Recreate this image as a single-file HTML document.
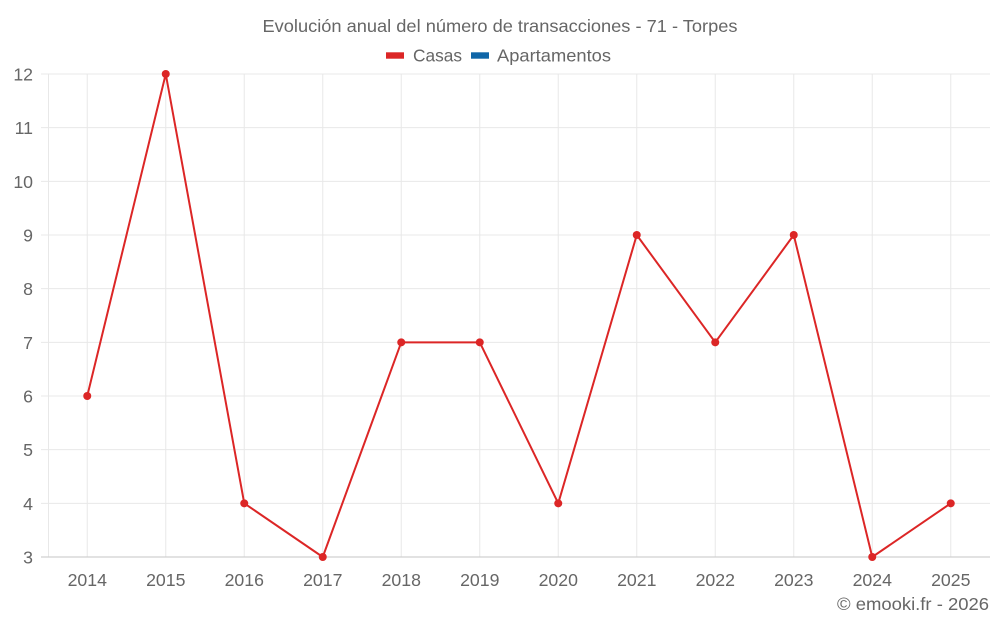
<!DOCTYPE html>
<html><head><meta charset="utf-8"><style>
html,body{margin:0;padding:0;background:#fff;}
svg{display:block;font-family:"Liberation Sans",Arial,sans-serif;}
</style></head><body>
<svg width="1000" height="625" viewBox="0 0 1000 625" xmlns="http://www.w3.org/2000/svg">
<rect width="1000" height="625" fill="#fff"/>
<g fill="#666" font-size="17.7">
<text x="500" y="32" text-anchor="middle" textLength="475" lengthAdjust="spacingAndGlyphs">Evolución anual del número de transacciones - 71 - Torpes</text>
<rect x="386" y="52.3" width="18" height="6.4" fill="#dc2626"/>
<text x="413" y="61.7" textLength="49" lengthAdjust="spacingAndGlyphs">Casas</text>
<rect x="471" y="52.3" width="18" height="6.4" fill="#0f66a8"/>
<text x="497" y="61.7" textLength="114" lengthAdjust="spacingAndGlyphs">Apartamentos</text>
</g>
<g stroke="#e8e8e8" stroke-width="1">
<line x1="41" y1="74" x2="990" y2="74"/>
<line x1="41" y1="127.67" x2="990" y2="127.67"/>
<line x1="41" y1="181.33" x2="990" y2="181.33"/>
<line x1="41" y1="235" x2="990" y2="235"/>
<line x1="41" y1="288.67" x2="990" y2="288.67"/>
<line x1="41" y1="342.33" x2="990" y2="342.33"/>
<line x1="41" y1="396" x2="990" y2="396"/>
<line x1="41" y1="449.67" x2="990" y2="449.67"/>
<line x1="41" y1="503.33" x2="990" y2="503.33"/>
<line x1="48.5" y1="74" x2="48.5" y2="557"/>
<line x1="87.25" y1="74" x2="87.25" y2="557"/>
<line x1="165.75" y1="74" x2="165.75" y2="557"/>
<line x1="244.25" y1="74" x2="244.25" y2="557"/>
<line x1="322.75" y1="74" x2="322.75" y2="557"/>
<line x1="401.25" y1="74" x2="401.25" y2="557"/>
<line x1="479.75" y1="74" x2="479.75" y2="557"/>
<line x1="558.25" y1="74" x2="558.25" y2="557"/>
<line x1="636.75" y1="74" x2="636.75" y2="557"/>
<line x1="715.25" y1="74" x2="715.25" y2="557"/>
<line x1="793.75" y1="74" x2="793.75" y2="557"/>
<line x1="872.25" y1="74" x2="872.25" y2="557"/>
<line x1="950.75" y1="74" x2="950.75" y2="557"/>
</g>
<line x1="41" y1="557" x2="990" y2="557" stroke="#d0d0d0" stroke-width="1.2"/>
<g fill="#666" font-size="17.7" text-anchor="end">
<text x="33" y="80.5">12</text>
<text x="33" y="134.2">11</text>
<text x="33" y="187.8">10</text>
<text x="33" y="241.5">9</text>
<text x="33" y="295.2">8</text>
<text x="33" y="348.8">7</text>
<text x="33" y="402.5">6</text>
<text x="33" y="456.2">5</text>
<text x="33" y="509.8">4</text>
<text x="33" y="563.5">3</text>
</g>
<g fill="#666" font-size="17.7" text-anchor="middle">
<text x="87.25" y="586">2014</text>
<text x="165.75" y="586">2015</text>
<text x="244.25" y="586">2016</text>
<text x="322.75" y="586">2017</text>
<text x="401.25" y="586">2018</text>
<text x="479.75" y="586">2019</text>
<text x="558.25" y="586">2020</text>
<text x="636.75" y="586">2021</text>
<text x="715.25" y="586">2022</text>
<text x="793.75" y="586">2023</text>
<text x="872.25" y="586">2024</text>
<text x="950.75" y="586">2025</text>
</g>
<polyline fill="none" stroke="#dc2626" stroke-width="2" stroke-linejoin="round" points="87.25,396 165.75,74 244.25,503.33 322.75,557 401.25,342.33 479.75,342.33 558.25,503.33 636.75,235 715.25,342.33 793.75,235 872.25,557 950.75,503.33"/>
<g fill="#dc2626">
<circle cx="87.25" cy="396" r="4"/>
<circle cx="165.75" cy="74" r="4"/>
<circle cx="244.25" cy="503.33" r="4"/>
<circle cx="322.75" cy="557" r="4"/>
<circle cx="401.25" cy="342.33" r="4"/>
<circle cx="479.75" cy="342.33" r="4"/>
<circle cx="558.25" cy="503.33" r="4"/>
<circle cx="636.75" cy="235" r="4"/>
<circle cx="715.25" cy="342.33" r="4"/>
<circle cx="793.75" cy="235" r="4"/>
<circle cx="872.25" cy="557" r="4"/>
<circle cx="950.75" cy="503.33" r="4"/>
</g>
<text x="989" y="610" fill="#666" font-size="17.7" text-anchor="end" textLength="152" lengthAdjust="spacingAndGlyphs">© emooki.fr - 2026</text>
</svg>
</body></html>
